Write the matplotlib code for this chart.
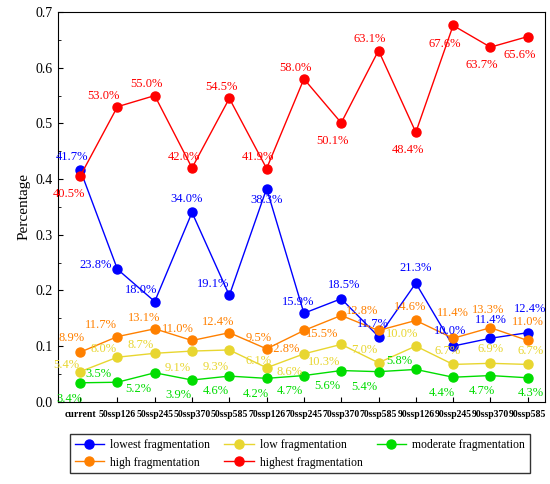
import matplotlib.pyplot as plt
from matplotlib.lines import Line2D

plt.rcParams["font.family"] = ["Liberation Serif", "DejaVu Serif"]

categories = ["current", "50ssp126", "50ssp245", "50ssp370", "50ssp585", "70ssp126",
              "70ssp245", "70ssp370", "70ssp585", "90ssp126", "90ssp245", "90ssp370", "90ssp585"]
lowest = [41.7, 23.8, 18.0, 34.0, 19.1, 38.3, 15.9, 18.5, 11.7, 21.3, 10.0, 11.4, 12.4]
low = [5.4, 8.0, 8.7, 9.1, 9.3, 6.1, 8.6, 10.3, 7.0, 10.0, 6.7, 6.9, 6.7]
moderate = [3.4, 3.5, 5.2, 3.9, 4.6, 4.2, 4.7, 5.6, 5.4, 5.8, 4.4, 4.7, 4.3]
high = [8.9, 11.7, 13.1, 11.0, 12.4, 9.5, 12.8, 15.5, 12.8, 14.6, 11.4, 13.3, 11.0]
highest = [40.5, 53.0, 55.0, 42.0, 54.5, 41.9, 58.0, 50.1, 63.1, 48.4, 67.6, 63.7, 65.6]

# label offsets in points (dx, dy)
off_lowest = [(-6, 9), (-16, 3), (-10, 8), (-4, 10), (-12, 8), (0, -8), (-4, 8), (2, 10), (-4, 9), (0, 11), (-2, 11), (0, 13), (2, 17)]
off_low = [(-10, 5), (-10, 6), (-10, 6), (-10, -12), (-10, -12), (-6, 5), (-10, -13), (-12, -13), (-10, 9), (-10, 9), (-4, 10), (0, 10), (2, 10)]
off_moderate = [(-8, -12), (-14, 6), (-12, -12), (-10, -11), (-10, -11), (-8, -11), (-10, -11), (-10, -11), (-10, -11), (-12, 6), (-8, -11), (-6, -11), (2, -11)]
off_high = [(-6, 10), (-12, 8), (-8, 8), (-10, 8), (-8, 8), (-6, 8), (-14, -13), (-14, -13), (-12, 14), (-4, 10), (0, 18), (-2, 13), (0, 13)]
off_highest = [(-8, -13), (-10, 8), (-6, 8), (-6, 8), (-6, 8), (-6, 8), (-6, 8), (-6, -13), (-6, 8), (-6, -13), (-6, -13), (-6, -13), (-6, -13)]

series = [
    ("lowest fragmentation", lowest, "#0000ff", off_lowest),
    ("low fragmentation", low, "#e8d630", off_low),
    ("moderate fragmentation", moderate, "#00dd00", off_moderate),
    ("high fragmentation", high, "#ff8000", off_high),
    ("highest fragmentation", highest, "#ff0000", off_highest),
]

fig = plt.figure(figsize=(5.5, 4.84), dpi=100)
ax = fig.add_axes([0.105, 0.17, 0.885, 0.805])
x = list(range(len(categories)))
for name, vals, color, offs in series:
    y = [v / 100 for v in vals]
    ax.plot(x, y, color=color, lw=1, marker="o", ms=6.5, mfc=color, mec=color, label=name)
    for xi, yi, v, (dx, dy) in zip(x, y, vals, offs):
        ax.annotate(f"{v:.1f}%", (xi, yi), xytext=(dx, dy), textcoords="offset points",
                    ha="center", va="center", color=color, fontsize=9)

ax.set_xlim(-0.6, 12.45)
ax.set_ylim(0, 0.7)
ax.set_xticks(x)
ax.set_xticklabels(categories, fontsize=7, fontweight="bold")
ax.set_ylabel("Percentage", fontsize=11)
ax.tick_params(direction="in", labelsize=10)
ax.tick_params(axis="x", labelsize=7, pad=6)
ax.set_yticks([0, 0.1, 0.2, 0.3, 0.4, 0.5, 0.6, 0.7])
ax.set_yticks([0.05, 0.15, 0.25, 0.35, 0.45, 0.55, 0.65], minor=True)
ax.tick_params(which="minor", direction="in", length=2)

handles = [Line2D([], [], color=c, marker="o", ms=6.5, lw=1) for _, _, c, _ in series]
labels = [s[0] for s in series]
order = [0, 3, 1, 4, 2]
fig.legend([handles[i] for i in order], [labels[i] for i in order], loc="lower center",
           bbox_to_anchor=(0.545, 0.01), ncol=3, fontsize=8.5, frameon=True,
           edgecolor="black", fancybox=False, handlelength=2.5, columnspacing=1.2,
           handletextpad=0.5)
fig.savefig("out.png", dpi=100)
